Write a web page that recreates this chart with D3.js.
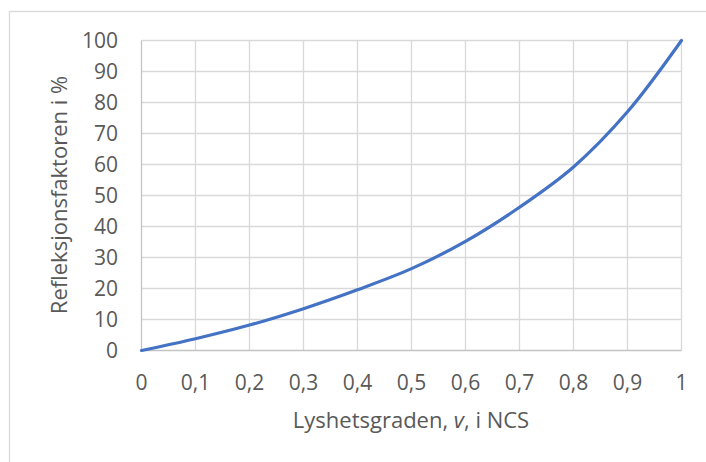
<!DOCTYPE html>
<html lang="no">
<head>
<meta charset="UTF-8">
<script src="https://d3js.org/d3.v7.min.js"></script>
<title>Refleksjonsfaktor</title>
<style>
    body { margin: 0; background: #fff; }
    text { font-family: "Open Sans", sans-serif; fill: #595959; }
</style>
</head>
<body>
<script>
    // lyshetsgrad v (NCS) og refleksjonsfaktor i %
    var vValues = [0, 0.1, 0.2, 0.3, 0.4, 0.5, 0.6, 0.7, 0.8, 0.9, 1];
    var reflValues = [0, 3.8, 8.2, 13.5, 19.6, 26.4, 35.2, 46.2, 59.2, 77, 100];
    var xTicks = [0, 0.1, 0.2, 0.3, 0.4, 0.5, 0.6, 0.7, 0.8, 0.9, 1];
    var yTicks = [0, 10, 20, 30, 40, 50, 60, 70, 80, 90, 100];

    var W = 706, H = 462;
    var plotL = 141.5, plotR = 681.5, plotT = 40.5, plotB = 350.5;

    var svg = d3.select("body").append("svg")
        .attr("width", W)
        .attr("height", H);

    // ramme rundt diagrammet
    svg.append("rect")
        .attr("x", 9.5).attr("y", 11.5)
        .attr("width", 710).attr("height", 470)
        .attr("fill", "none")
        .attr("stroke", "#d9d9d9")
        .attr("stroke-width", 1.3);

    var x = d3.scaleLinear().domain([0, 1]).range([plotL, plotR]);
    var y = d3.scaleLinear().domain([0, 100]).range([plotB, plotT]);

    // rutenett
    svg.append("g").selectAll("line")
        .data(yTicks.slice(1))
        .join("line")
        .attr("x1", plotL).attr("x2", plotR)
        .attr("y1", function (d) { return y(d); })
        .attr("y2", function (d) { return y(d); })
        .attr("stroke", "#d9d9d9").attr("stroke-width", 1.3);

    svg.append("g").selectAll("line")
        .data(xTicks.slice(1))
        .join("line")
        .attr("x1", function (d) { return x(d); })
        .attr("x2", function (d) { return x(d); })
        .attr("y1", plotT).attr("y2", plotB)
        .attr("stroke", "#d9d9d9").attr("stroke-width", 1.3);

    // akser
    svg.append("line")
        .attr("x1", plotL).attr("x2", plotR)
        .attr("y1", plotB).attr("y2", plotB)
        .attr("stroke", "#c4c4c4").attr("stroke-width", 1.3);
    svg.append("line")
        .attr("x1", plotL).attr("x2", plotL)
        .attr("y1", plotT).attr("y2", plotB)
        .attr("stroke", "#c4c4c4").attr("stroke-width", 1.3);

    // tall på aksene
    var fmt = function (d) { return String(d).replace(".", ","); };

    svg.append("g").selectAll("text")
        .data(xTicks)
        .join("text")
        .attr("x", function (d) { return x(d); })
        .attr("y", 390)
        .attr("text-anchor", "middle")
        .attr("font-size", 21)
        .text(fmt);

    svg.append("g").selectAll("text")
        .data(yTicks)
        .join("text")
        .attr("x", 118)
        .attr("y", function (d) { return y(d); })
        .attr("dy", "0.36em")
        .attr("text-anchor", "end")
        .attr("font-size", 21)
        .text(function (d) { return d; });

    // kurven
    var line = d3.line()
        .x(function (d) { return x(d[0]); })
        .y(function (d) { return y(d[1]); })
        .curve(d3.curveCatmullRom.alpha(0.5));

    svg.append("path")
        .datum(d3.zip(vValues, reflValues))
        .attr("d", line)
        .attr("fill", "none")
        .attr("stroke", "#4472c4")
        .attr("stroke-width", 3.2)
        .attr("stroke-linecap", "round");

    // aksetitler
    var xt = svg.append("text")
        .attr("x", 411).attr("y", 428)
        .attr("text-anchor", "middle")
        .attr("font-size", 22);
    xt.append("tspan").text("Lyshetsgraden, ");
    xt.append("tspan").attr("font-style", "italic").text("v");
    xt.append("tspan").text(", i NCS");

    svg.append("text")
        .attr("transform", "translate(67,195) rotate(-90)")
        .attr("text-anchor", "middle")
        .attr("font-size", 22)
        .text("Refleksjonsfaktoren i %");
</script>
</body>
</html>
